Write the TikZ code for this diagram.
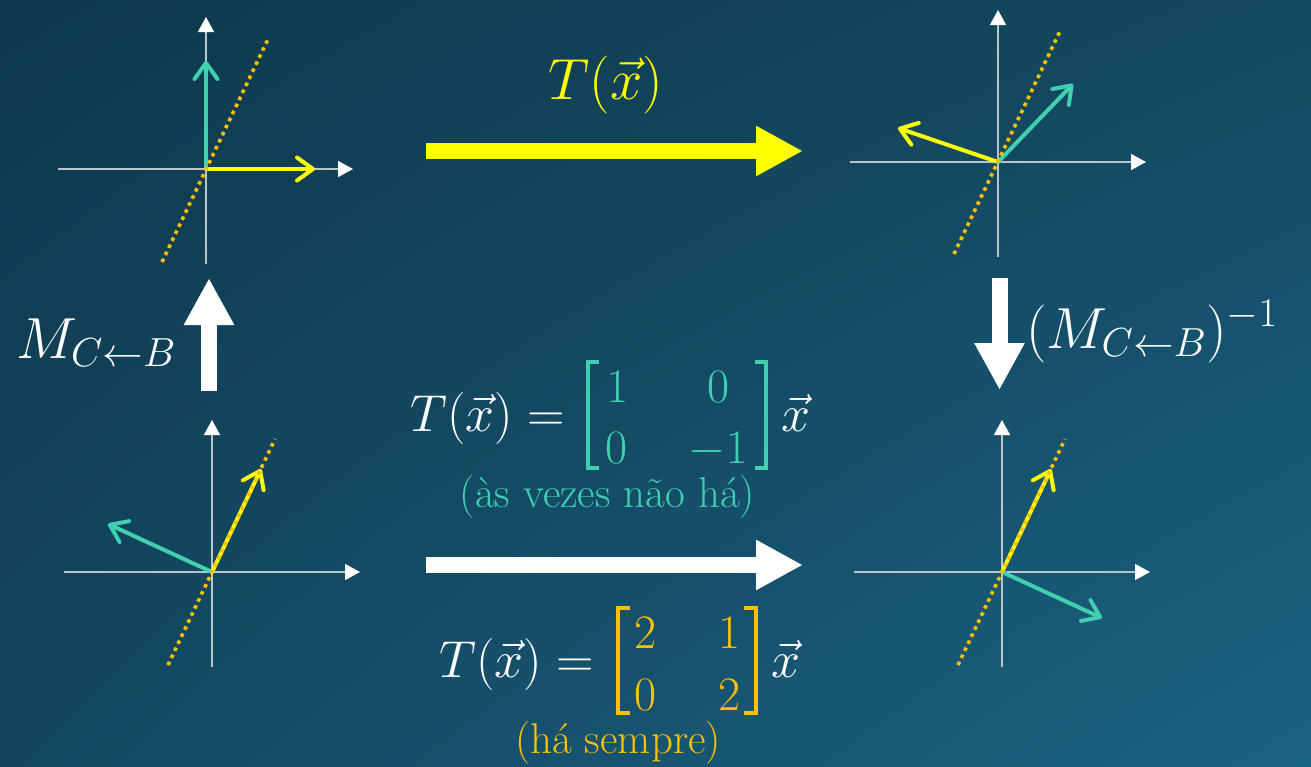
\RequirePackage{fix-cm}
\documentclass[tikz,border=0pt]{standalone}
\usepackage{amsmath}
\usetikzlibrary{arrows.meta,shadings}
\definecolor{bgUL}{HTML}{0E384C}
\definecolor{bgUR}{HTML}{134960}
\definecolor{bgLL}{HTML}{134760}
\definecolor{bgLR}{HTML}{1B6383}
\definecolor{teal}{HTML}{40D0B0}
\definecolor{yel}{HTML}{FFFF00}
\definecolor{orn}{HTML}{FFC000}
\definecolor{axisgray}{HTML}{B9C4CB}
\tikzset{
  axisline/.style={draw=axisgray, line width=1.4pt, -{Triangle[length=15pt,width=16pt,color=white]}},
  vecarrow/.style={line width=4pt, line cap=round, -{Straight Barb[length=16pt,width=23pt,round]}},
  tealvec/.style={vecarrow, draw=teal},
  yelvec/.style={vecarrow, draw=yel},
  eigenline/.style={draw=orn, line width=3.6pt, dash pattern=on 3.6pt off 4.2pt},
  blockarrow/.style={line width=16pt, -{Triangle[length=47pt,width=47pt]}},
  bigmath/.style={inner sep=0pt, font=\fontsize{58}{70}\selectfont},
  eqmath/.style={inner sep=0pt, font=\fontsize{52}{62}\selectfont},
  entry/.style={inner sep=0pt, anchor=base, font=\fontsize{48}{58}\selectfont},
  bracket/.style={line width=3.4pt, line join=miter},
  note/.style={inner sep=0pt, font=\fontsize{43}{52}\selectfont},
}
\begin{document}
\begin{tikzpicture}[x=1pt,y=-1pt]
\useasboundingbox (0,0) rectangle (1311,766);
\shade[upper left=bgUL, upper right=bgUR, lower left=bgLL, lower right=bgLR] (0,0) rectangle (1311,766);

% ---------- top-left system ----------
\coordinate (O1) at (206,169);
\coordinate (x1a) at (58,169); \coordinate (x1b) at (353,169);
\coordinate (y1a) at (206,264); \coordinate (y1b) at (206,17);
\draw[axisline] (x1a) -- (x1b);
\draw[axisline] (y1a) -- (y1b);
\coordinate (t1) at (206,61); \coordinate (u1) at (315,169);
\draw[tealvec] (O1) -- (t1);
\draw[yelvec] (O1) -- (u1);
\coordinate (e1a) at (162,262); \coordinate (e1b) at (269,37);
\draw[eigenline] (e1a) -- (e1b);

% ---------- top-right system ----------
\coordinate (O2) at (998,162);
\coordinate (x2a) at (850,162); \coordinate (x2b) at (1146,162);
\coordinate (y2a) at (998,257); \coordinate (y2b) at (998,10);
\draw[axisline] (x2a) -- (x2b);
\draw[axisline] (y2a) -- (y2b);
\coordinate (u2) at (898,128); \coordinate (t2) at (1073,84);
\draw[yelvec] (O2) -- (u2);
\draw[tealvec] (O2) -- (t2);
\coordinate (e2a) at (954,254); \coordinate (e2b) at (1061,29);
\draw[eigenline] (e2a) -- (e2b);

% ---------- bottom-left system ----------
\coordinate (O3) at (212,572);
\coordinate (x3a) at (64,572); \coordinate (x3b) at (360,572);
\coordinate (y3a) at (212,667); \coordinate (y3b) at (212,420);
\draw[axisline] (x3a) -- (x3b);
\draw[axisline] (y3a) -- (y3b);
\coordinate (t3) at (108,524); \coordinate (u3) at (261,469);
\draw[tealvec] (O3) -- (t3);
\draw[yelvec] (O3) -- (u3);
\coordinate (e3a) at (168,665); \coordinate (e3b) at (275,439);
\draw[eigenline] (e3a) -- (e3b);

% ---------- bottom-right system ----------
\coordinate (O4) at (1002,572);
\coordinate (x4a) at (854,572); \coordinate (x4b) at (1150,572);
\coordinate (y4a) at (1002,667); \coordinate (y4b) at (1002,420);
\draw[axisline] (x4a) -- (x4b);
\draw[axisline] (y4a) -- (y4b);
\coordinate (u4) at (1051,469); \coordinate (t4) at (1102,618);
\draw[yelvec] (O4) -- (u4);
\draw[tealvec] (O4) -- (t4);
\coordinate (e4a) at (958,665); \coordinate (e4b) at (1065,439);
\draw[eigenline] (e4a) -- (e4b);

% ---------- block arrows ----------
\coordinate (ta) at (426,151); \coordinate (tb) at (803,151);
\draw[blockarrow, draw=yel, fill=yel] (ta) -- (tb);
\coordinate (ba) at (426,565); \coordinate (bb) at (803,565);
\draw[blockarrow, draw=white, fill=white] (ba) -- (bb);
\coordinate (la) at (209,391); \coordinate (lb) at (209,278);
\draw[blockarrow, draw=white, fill=white] (la) -- (lb);
\coordinate (ra) at (999.5,278); \coordinate (rb) at (999.5,390);
\draw[blockarrow, draw=white, fill=white] (ra) -- (rb);

% ---------- labels ----------
\node[bigmath, text=yel, anchor=base] (Ttop) at (606,99) {$T(\vec{x})$};
\node[bigmath, text=white, anchor=base east] (Mleft) at (176,358) {$M_{C\leftarrow B}$};
\node[bigmath, text=white, anchor=base west] (Mright) at (1026,348) {$(M_{C\leftarrow B})^{-1}$};

% ---------- middle equation ----------
\node[eqmath, text=white, anchor=base east] (eqAl) at (565,431) {$T(\vec{x})=$};
\node[entry, text=teal] (a11) at (617,402) {$1$};
\node[entry, text=teal] (a12) at (718,402) {$0$};
\node[entry, text=teal] (a21) at (616,463) {$0$};
\node[entry, text=teal] (a22) at (718,463) {$-1$};
\draw[bracket, draw=teal] (599,362) -- (588,362) -- (588,468) -- (599,468);
\draw[bracket, draw=teal] (755,362) -- (766,362) -- (766,468) -- (755,468);
\node[eqmath, text=white, anchor=base west] (eqAr) at (781,431) {$\vec{x}$};
\node[note, text=teal, anchor=base] (noteA) at (607.5,507) {(às vezes não há)};

% ---------- bottom equation ----------
\node[eqmath, text=white, anchor=base east] (eqBl) at (594,677) {$T(\vec{x})=$};
\node[entry, text=orn] (b11) at (645,648) {$2$};
\node[entry, text=orn] (b12) at (729,648) {$1$};
\node[entry, text=orn] (b21) at (645,710) {$0$};
\node[entry, text=orn] (b22) at (729,710) {$2$};
\draw[bracket, draw=orn] (630,608) -- (618,608) -- (618,713) -- (630,713);
\draw[bracket, draw=orn] (744,608) -- (756,608) -- (756,713) -- (744,713);
\node[eqmath, text=white, anchor=base west] (eqBr) at (771,677) {$\vec{x}$};
\node[note, text=orn, anchor=base] (noteB) at (618,753) {(há sempre)};
\end{tikzpicture}
\end{document}
